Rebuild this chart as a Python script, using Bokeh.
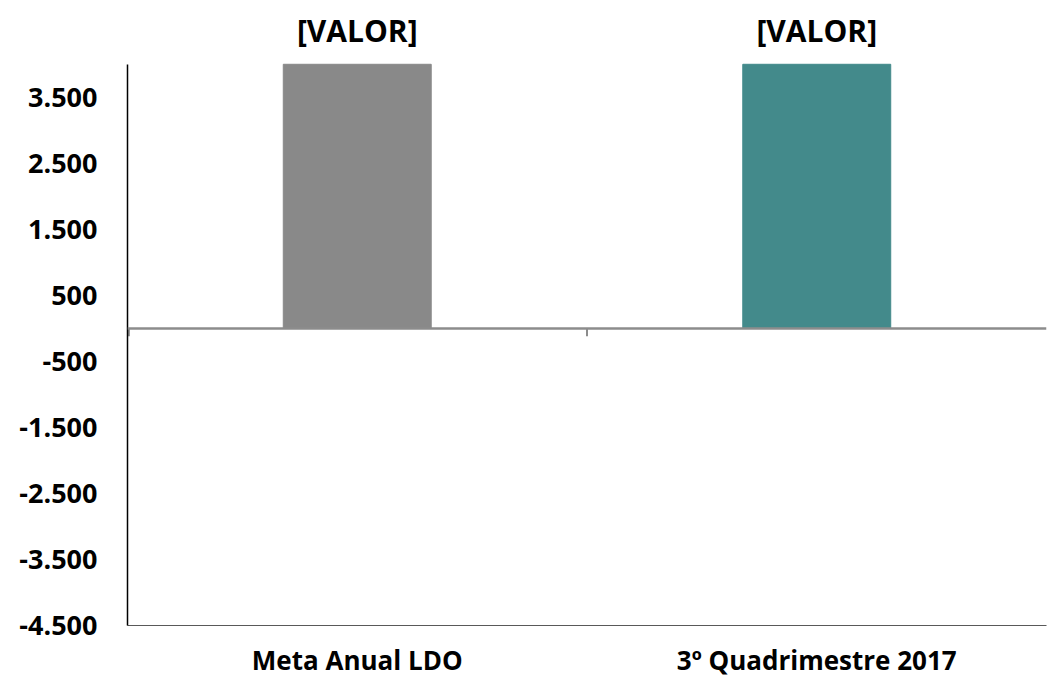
from bokeh.plotting import figure
from bokeh.models import ColumnDataSource, FixedTicker, Span, Range1d
from bokeh.core.properties import value
from bokeh.embed import file_html
from bokeh.resources import INLINE

categories = ["Meta Anual LDO", "3º Quadrimestre 2017"]
values = [4000, 4000]
bar_labels = ["[VALOR]", "[VALOR]"]
colors = ["#898989", "#438A8B"]
y_ticks = [-4500, -3500, -2500, -1500, -500, 500, 1500, 2500, 3500]
y_min, y_max = -4500, 4000

def fmt(v):
    s = f"{abs(v):,}".replace(",", ".")
    return ("-" if v < 0 else "") + s

xpos = [i + 0.5 for i in range(len(categories))]
src = ColumnDataSource(dict(x=xpos, top=values, label=bar_labels, color=colors))

# extra headroom above the axis maximum for the value labels (frame starts at top of canvas)
headroom = (y_max - y_min) * 64 / 563

p = figure(width=1048, height=680, output_backend="svg", toolbar_location=None,
           x_range=Range1d(0, len(categories)), y_range=Range1d(y_min, y_max + headroom),
           min_border_left=127, min_border_right=2, min_border_top=0, min_border_bottom=53)
p.outline_line_color = None
p.grid.visible = False
p.background_fill_color = "white"
p.border_fill_color = "white"

p.vbar(x="x", top="top", bottom=0, width=0.322, color="color", source=src)

p.add_layout(Span(location=0, dimension="width", line_color="#8C8C8C", line_width=2.5))
tick_len = (y_max - y_min) * 8 / 563
p.segment(x0=[1, 0.003], x1=[1, 0.003], y0=[0, 0], y1=[-tick_len, -tick_len],
          line_color="#8C8C8C", line_width=2)

p.text(x="x", y="top", text="label", source=src, y_offset=-34,
       text_align="center", text_baseline="middle",
       text_font=value("Open Sans"), text_font_style="bold",
       text_font_size="30px", text_color="black")

ya = p.yaxis[0]
ya.ticker = FixedTicker(ticks=y_ticks)
ya.bounds = (y_min, y_max)
ya.major_label_overrides = {t: fmt(t) for t in y_ticks}
ya.major_label_text_font = "Open Sans"
ya.major_label_text_font_style = "bold"
ya.major_label_text_font_size = "27px"
ya.major_label_text_color = "black"
ya.major_tick_line_color = None
ya.minor_tick_line_color = None
ya.axis_line_color = "black"
ya.axis_line_width = 1.5
ya.major_label_standoff = 24

xa = p.xaxis[0]
xa.ticker = FixedTicker(ticks=xpos)
xa.major_label_overrides = {x: c for x, c in zip(xpos, categories)}
xa.major_label_text_font = "Open Sans"
xa.major_label_text_font_style = "bold"
xa.major_label_text_font_size = "26px"
xa.major_label_text_color = "black"
xa.major_tick_line_color = None
xa.minor_tick_line_color = None
xa.axis_line_color = "#595959"
xa.axis_line_width = 1.2
xa.major_label_standoff = 10

open("out.html", "w").write(file_html(p, INLINE))
